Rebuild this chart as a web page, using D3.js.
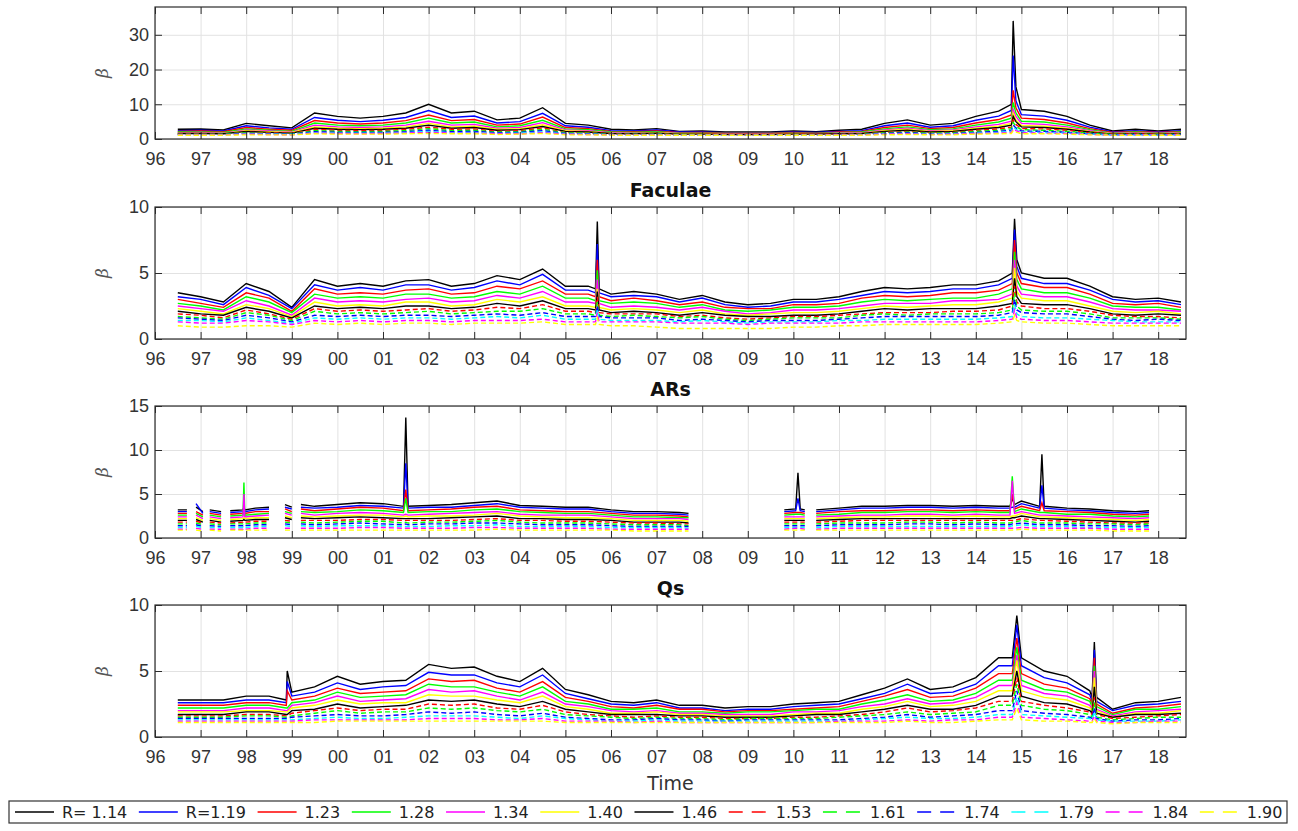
<!DOCTYPE html>
<html>
<head>
<meta charset="utf-8">
<script src="https://cdn.jsdelivr.net/npm/d3@7"></script>
<style>
  body { margin: 0; background: #fff; }
  svg { display: block; font-family: "DejaVu Sans", sans-serif; }
</style>
</head>
<body>
<svg id="chart" width="1298" height="831"></svg>
<script>
// legend / series styles
const seriesNames = ["R= 1.14", "R=1.19", "1.23", "1.28", "1.34", "1.40", "1.46", "1.53", "1.61", "1.74", "1.79", "1.84", "1.90"];
const seriesColors = ["#000000", "#0000ff", "#ff0000", "#00ff00", "#ff00ff", "#ffff00", "#000000", "#ff0000", "#00ff00", "#0000ff", "#00ffff", "#ff00ff", "#ffff00"];
const seriesDashed = [false, false, false, false, false, false, false, true, true, true, true, true, true];

const tickYears = d3.range(1996, 2019);
const tickLabels = ["96", "97", "98", "99", "00", "01", "02", "03", "04", "05", "06", "07", "08", "09", "10", "11", "12", "13", "14", "15", "16", "17", "18"];

// top panel (no title visible)
const totalDates = [1996.5,1997,1997.5,1998,1998.5,1999,1999.5,2000,2000.5,2001,2001.5,2002,2002.5,2003,2003.5,2004,2004.5,2005,2005.5,2006,2006.5,2007,2007.5,2008,2008.5,2009,2009.5,2010,2010.5,2011,2011.5,2012,2012.5,2013,2013.5,2014,2014.5,2014.78,2014.82,2014.88,2015,2015.5,2016,2016.5,2017,2017.5,2018,2018.5];
const totalSeries = [
  [2.8,2.9,2.6,4.5,3.8,3.2,7.5,6.5,6.0,6.5,7.5,10.0,7.5,8.0,5.5,6.0,9.0,4.5,4.0,2.8,2.6,3.0,2.2,2.3,2.0,2.0,2.0,2.3,2.1,2.5,2.8,4.5,5.5,4.0,4.5,6.5,8.0,10,34,15,8.5,8.0,6.5,4.0,2.3,2.8,2.3,2.8],
  [2.4,2.5,2.3,3.8,3.2,2.8,6.2,5.4,5.0,5.4,6.2,8.2,6.2,6.6,4.6,5.0,7.4,3.8,3.4,2.4,2.3,2.6,2.0,2.0,1.8,1.8,1.8,2.0,1.9,2.2,2.4,3.8,4.6,3.4,3.8,5.4,6.6,8.2,24,11,7.0,6.6,5.4,3.4,2.0,2.4,2.0,2.4],
  [2.2,2.3,2.1,3.3,2.8,2.5,5.3,4.6,4.3,4.6,5.3,6.9,5.3,5.6,4.0,4.3,6.3,3.3,3.0,2.2,2.1,2.3,1.8,1.9,1.7,1.7,1.7,1.9,1.7,2.0,2.2,3.3,4.0,3.0,3.3,4.6,5.6,6.9,14,9,6.0,5.6,4.6,3.0,1.9,2.2,1.9,2.2],
  [2.0,2.0,1.9,2.9,2.5,2.2,4.6,4.0,3.8,4.0,4.6,6.0,4.6,4.9,3.5,3.8,5.4,2.9,2.7,2.0,1.9,2.1,1.7,1.7,1.6,1.6,1.6,1.7,1.6,1.8,2.0,2.9,3.5,2.7,2.9,4.0,4.9,6.0,10.5,7.5,5.1,4.9,4.0,2.7,1.7,2.0,1.7,2.0],
  [1.8,1.9,1.7,2.6,2.3,2.0,4.0,3.5,3.3,3.5,4.0,5.1,4.0,4.2,3.1,3.3,4.7,2.6,2.4,1.8,1.7,1.9,1.6,1.6,1.5,1.5,1.5,1.6,1.5,1.7,1.8,2.6,3.1,2.4,2.6,3.5,4.2,5.1,8.5,6.5,4.5,4.2,3.5,2.4,1.6,1.8,1.6,1.8],
  [1.7,1.7,1.6,2.4,2.1,1.9,3.5,3.1,3.0,3.1,3.5,4.5,3.5,3.7,2.8,3.0,4.1,2.4,2.2,1.7,1.6,1.8,1.5,1.5,1.4,1.4,1.4,1.5,1.4,1.6,1.7,2.4,2.8,2.2,2.4,3.1,3.7,4.5,7.5,5.5,3.9,3.7,3.1,2.2,1.5,1.7,1.5,1.7],
  [1.6,1.6,1.5,2.2,1.9,1.7,3.1,2.8,2.7,2.8,3.1,4.0,3.1,3.3,2.5,2.7,3.6,2.2,2.0,1.6,1.5,1.7,1.4,1.4,1.3,1.3,1.3,1.4,1.4,1.5,1.6,2.2,2.5,2.0,2.2,2.8,3.3,4.0,6.5,5.0,3.5,3.3,2.8,2.0,1.4,1.6,1.4,1.6],
  [1.5,1.5,1.4,1.9,1.8,1.6,2.8,2.5,2.4,2.5,2.8,3.4,2.8,2.9,2.2,2.4,3.2,1.9,1.8,1.5,1.4,1.5,1.3,1.4,1.3,1.3,1.3,1.4,1.3,1.4,1.5,1.9,2.2,1.8,1.9,2.5,2.9,3.4,5.5,4.2,3.0,2.9,2.5,1.8,1.4,1.5,1.4,1.5],
  [1.4,1.4,1.4,1.8,1.6,1.5,2.4,2.2,2.1,2.2,2.4,3.0,2.4,2.5,2.0,2.1,2.8,1.8,1.7,1.4,1.4,1.4,1.3,1.3,1.2,1.2,1.2,1.3,1.2,1.3,1.4,1.8,2.0,1.7,1.8,2.2,2.5,3.0,4.8,3.6,2.7,2.5,2.2,1.7,1.3,1.4,1.3,1.4],
  [1.3,1.3,1.3,1.6,1.5,1.4,2.1,1.9,1.9,1.9,2.1,2.5,2.1,2.2,1.8,1.9,2.4,1.6,1.5,1.3,1.3,1.3,1.2,1.2,1.2,1.2,1.2,1.2,1.2,1.3,1.3,1.6,1.8,1.5,1.6,1.9,2.2,2.5,4.0,3.2,2.3,2.2,1.9,1.5,1.2,1.3,1.2,1.3],
  [1.2,1.2,1.2,1.5,1.4,1.3,1.8,1.7,1.7,1.7,1.8,2.2,1.8,1.9,1.6,1.7,2.0,1.5,1.4,1.2,1.2,1.3,1.2,1.2,1.1,1.1,1.1,1.2,1.1,1.2,1.2,1.5,1.6,1.4,1.5,1.7,1.9,2.2,3.4,2.8,2.0,1.9,1.7,1.4,1.2,1.2,1.2,1.2],
  [1.2,1.2,1.2,1.4,1.3,1.2,1.7,1.6,1.5,1.6,1.7,1.9,1.7,1.7,1.5,1.5,1.8,1.4,1.3,1.2,1.2,1.2,1.1,1.1,1.1,1.1,1.1,1.1,1.1,1.2,1.2,1.4,1.5,1.3,1.4,1.6,1.7,1.9,2.9,2.4,1.8,1.7,1.6,1.3,1.1,1.2,1.1,1.2],
  [1.1,1.1,1.1,1.2,1.2,1.2,1.5,1.4,1.4,1.4,1.5,1.6,1.5,1.5,1.3,1.4,1.6,1.2,1.2,1.1,1.1,1.1,1.1,1.1,1.1,1.1,1.1,1.1,1.1,1.1,1.1,1.2,1.3,1.2,1.2,1.4,1.5,1.6,2.4,2.0,1.5,1.5,1.4,1.2,1.1,1.1,1.1,1.1]
];

// Faculae
const faculaeDates = [1996.5,1997,1997.5,1998,1998.5,1999,1999.5,2000,2000.5,2001,2001.5,2002,2002.5,2003,2003.5,2004,2004.5,2005,2005.5,2005.66,2005.7,2005.74,2006,2006.5,2007,2007.5,2008,2008.5,2009,2009.5,2010,2010.5,2011,2011.5,2012,2012.5,2013,2013.5,2014,2014.5,2014.8,2014.85,2014.9,2015,2015.5,2016,2016.5,2017,2017.5,2018,2018.5];
const faculaeSeries = [
  [3.5,3.2,2.8,4.2,3.6,2.4,4.5,4.0,4.2,4.0,4.4,4.5,4.0,4.2,4.8,4.5,5.3,4.0,4.0,3.8,8.9,3.8,3.4,3.6,3.4,3.0,3.3,2.8,2.6,2.7,3.0,3.0,3.2,3.6,3.9,3.8,3.9,4.1,4.1,4.4,5.0,9.1,6.0,5.0,4.6,4.6,4.0,3.2,3.0,3.1,2.8],
  [3.2,3.0,2.6,3.9,3.3,2.3,4.1,3.7,3.9,3.7,4.1,4.1,3.7,3.9,4.4,4.1,4.9,3.7,3.7,3.5,7.2,3.5,3.2,3.3,3.2,2.8,3.1,2.6,2.4,2.5,2.8,2.8,3.0,3.3,3.6,3.5,3.6,3.8,3.8,4.1,4.6,8.3,5.5,4.6,4.2,4.2,3.7,3.0,2.8,2.9,2.6],
  [3.0,2.7,2.4,3.5,3.1,2.1,3.8,3.4,3.5,3.4,3.7,3.8,3.4,3.5,4.0,3.8,4.4,3.4,3.4,3.2,6.0,3.2,2.9,3.1,2.9,2.6,2.8,2.4,2.3,2.3,2.6,2.6,2.7,3.1,3.3,3.2,3.3,3.5,3.5,3.7,4.2,7.5,5.0,4.2,3.9,3.9,3.4,2.7,2.6,2.7,2.4],
  [2.7,2.5,2.2,3.2,2.8,2.0,3.4,3.1,3.2,3.1,3.4,3.4,3.1,3.2,3.6,3.4,4.0,3.1,3.1,2.9,5.2,2.9,2.7,2.8,2.7,2.4,2.6,2.2,2.1,2.2,2.4,2.4,2.5,2.8,3.0,2.9,3.0,3.1,3.1,3.4,3.8,6.6,4.5,3.8,3.5,3.5,3.1,2.5,2.4,2.4,2.2],
  [2.5,2.3,2.1,2.9,2.5,1.8,3.1,2.8,2.9,2.8,3.0,3.1,2.8,2.9,3.3,3.1,3.6,2.8,2.8,2.7,4.5,2.7,2.4,2.5,2.4,2.2,2.4,2.1,1.9,2.0,2.2,2.2,2.3,2.5,2.7,2.7,2.7,2.9,2.9,3.0,3.4,6.0,4.0,3.4,3.2,3.2,2.8,2.3,2.2,2.2,2.1],
  [2.3,2.1,1.9,2.6,2.3,1.7,2.8,2.5,2.6,2.5,2.8,2.8,2.5,2.6,3.0,2.8,3.2,2.5,2.5,2.4,3.8,2.4,2.2,2.3,2.2,2.0,2.2,1.9,1.8,1.9,2.0,2.0,2.1,2.3,2.5,2.4,2.5,2.6,2.6,2.8,3.1,5.4,3.6,3.1,2.9,2.9,2.5,2.1,2.0,2.1,1.9],
  [2.1,1.9,1.8,2.4,2.1,1.6,2.5,2.3,2.4,2.3,2.5,2.5,2.3,2.4,2.7,2.5,2.9,2.3,2.3,2.2,3.6,2.2,2.0,2.1,2.0,1.8,2.0,1.8,1.7,1.7,1.8,1.8,1.9,2.1,2.3,2.2,2.3,2.3,2.3,2.5,2.7,4.6,3.2,2.7,2.6,2.6,2.3,1.9,1.8,1.9,1.8],
  [1.9,1.8,1.6,2.2,1.9,1.5,2.3,2.1,2.2,2.1,2.2,2.3,2.1,2.2,2.4,2.3,2.6,2.1,2.1,2.0,3.2,2.0,1.9,1.9,1.9,1.7,1.8,1.6,1.5,1.6,1.7,1.7,1.8,1.9,2.0,2.0,2.0,2.1,2.1,2.2,2.5,4.0,2.8,2.5,2.3,2.3,2.1,1.8,1.7,1.7,1.6],
  [1.7,1.6,1.5,2.0,1.8,1.4,2.1,1.9,2.0,1.9,2.0,2.1,1.9,2.0,2.1,2.1,2.3,1.9,1.9,1.8,2.8,1.8,1.7,1.8,1.7,1.6,1.7,1.5,1.4,1.5,1.6,1.6,1.6,1.8,1.9,1.8,1.9,1.9,1.9,2.0,2.2,3.5,2.5,2.2,2.1,2.1,1.9,1.6,1.6,1.6,1.5],
  [1.6,1.5,1.4,1.8,1.6,1.3,1.8,1.7,1.8,1.7,1.8,1.8,1.7,1.8,1.9,1.8,2.0,1.7,1.7,1.7,2.5,1.7,1.6,1.6,1.6,1.4,1.5,1.4,1.3,1.4,1.4,1.4,1.5,1.6,1.7,1.7,1.7,1.7,1.7,1.8,2.0,3.0,2.2,2.0,1.9,1.9,1.7,1.5,1.4,1.5,1.4],
  [1.4,1.4,1.3,1.6,1.4,1.2,1.6,1.5,1.6,1.5,1.6,1.6,1.5,1.6,1.7,1.6,1.8,1.5,1.5,1.5,2.2,1.5,1.4,1.4,1.4,1.3,1.4,1.3,1.2,1.3,1.3,1.3,1.4,1.4,1.5,1.5,1.5,1.5,1.5,1.6,1.7,2.6,1.9,1.7,1.6,1.6,1.5,1.4,1.3,1.3,1.3],
  [1.3,1.2,1.2,1.4,1.3,1.1,1.4,1.3,1.4,1.3,1.4,1.4,1.3,1.4,1.4,1.4,1.5,1.3,1.3,1.3,2.0,1.3,1.3,1.3,1.3,1.2,1.2,1.2,1.1,1.2,1.2,1.2,1.2,1.3,1.3,1.3,1.3,1.3,1.3,1.4,1.5,2.2,1.6,1.5,1.4,1.4,1.3,1.2,1.2,1.2,1.2],
  [1.0,0.9,0.9,1.0,1.0,0.9,1.2,1.1,1.2,1.1,1.2,1.2,1.1,1.2,1.2,1.2,1.3,1.1,1.1,1.1,1.6,1.1,1.0,1.0,0.9,0.8,0.8,0.8,0.8,0.8,0.9,0.9,1.0,1.0,1.1,1.1,1.1,1.1,1.1,1.2,1.3,1.8,1.4,1.3,1.2,1.2,1.1,1.0,1.0,1.0,1.0]
];

// ARs (data has gaps, arBreaks marks where the record stops)
const arDates = [1996.5,1996.7,1996.9,1997.05,1997.2,1997.45,1997.65,1997.93,1997.95,1997.97,1998.2,1998.5,1998.85,1999,1999.2,1999.5,2000,2000.5,2001,2001.45,2001.5,2001.55,2002,2002.5,2003,2003.5,2004,2004.5,2005,2005.5,2006,2006.5,2007,2007.5,2007.7,2009.8,2010.05,2010.1,2010.15,2010.25,2010.5,2011,2011.5,2012,2012.5,2013,2013.5,2014,2014.5,2014.75,2014.8,2014.85,2015,2015.4,2015.45,2015.5,2016,2016.5,2017,2017.5,2017.8];
const arBreaks = [1996.8, 1997.1, 1997.55, 1998.7, 1999.1, 2008.5, 2010.35];
const arSeries = [
  [3.2,3.2,3.5,3.0,3.2,3.0,3.1,3.2,3.5,3.2,3.4,3.5,3.8,3.5,3.8,3.6,3.8,4.0,3.9,3.6,13.7,3.6,3.7,3.8,4.0,4.2,3.7,3.6,3.5,3.5,3.2,3.0,3.0,2.9,2.8,3.2,3.3,7.4,3.3,3.2,3.2,3.4,3.6,3.6,3.7,3.7,3.6,3.7,3.6,3.6,4.5,3.8,4.2,3.6,9.5,3.6,3.4,3.3,3.1,3.0,3.1],
  [3.0,3.0,3.9,2.8,3.0,2.8,2.9,3.0,3.3,3.0,3.2,3.3,3.5,3.3,3.5,3.4,3.5,3.7,3.6,3.4,8.5,3.4,3.5,3.5,3.7,3.9,3.5,3.4,3.3,3.3,3.0,2.8,2.8,2.7,2.6,3.0,3.1,4.5,3.1,3.0,3.0,3.2,3.4,3.4,3.5,3.5,3.4,3.5,3.4,3.4,3.5,3.5,3.9,3.4,6.0,3.4,3.2,3.1,2.9,2.8,2.9],
  [2.8,2.8,3.0,2.6,2.8,2.6,2.7,2.8,3.0,2.8,3.0,3.0,3.3,3.0,3.3,3.1,3.3,3.5,3.4,3.1,5.5,3.1,3.2,3.3,3.5,3.6,3.2,3.1,3.0,3.0,2.8,2.6,2.6,2.5,2.4,2.8,2.9,2.9,2.9,2.8,2.8,3.0,3.1,3.1,3.2,3.2,3.1,3.2,3.1,3.1,5.0,3.3,3.6,3.1,4.0,3.1,3.0,2.9,2.7,2.6,2.7],
  [2.6,2.6,2.8,2.4,2.6,2.4,2.5,2.6,6.3,2.6,2.7,2.8,3.0,2.8,3.0,2.9,3.0,3.2,3.1,2.9,4.5,2.9,3.0,3.0,3.2,3.3,3.0,2.9,2.8,2.8,2.6,2.4,2.4,2.3,2.3,2.6,2.7,2.7,2.7,2.6,2.6,2.7,2.9,2.9,3.0,3.0,2.9,3.0,2.9,2.9,7.0,3.0,3.3,2.9,2.9,2.9,2.7,2.7,2.5,2.4,2.5],
  [2.4,2.4,2.6,2.2,2.4,2.2,2.3,2.4,5.0,2.4,2.5,2.6,2.8,2.6,2.8,2.6,2.8,2.9,2.8,2.6,2.7,2.6,2.7,2.8,2.9,3.0,2.7,2.6,2.6,2.6,2.4,2.2,2.2,2.2,2.1,2.4,2.4,2.4,2.4,2.4,2.4,2.5,2.6,2.6,2.7,2.7,2.6,2.7,2.6,2.6,6.5,2.8,3.0,2.6,2.6,2.6,2.5,2.4,2.3,2.2,2.3],
  [2.2,2.2,2.3,2.0,2.2,2.0,2.1,2.2,2.3,2.2,2.3,2.3,2.5,2.3,2.5,2.4,2.5,2.6,2.6,2.4,2.5,2.4,2.5,2.5,2.6,2.8,2.5,2.4,2.3,2.3,2.2,2.0,2.0,2.0,1.9,2.2,2.2,2.2,2.2,2.2,2.2,2.3,2.4,2.4,2.5,2.5,2.4,2.5,2.4,2.4,2.5,2.5,2.8,2.4,2.4,2.4,2.3,2.2,2.1,2.0,2.1],
  [2.0,2.0,2.1,1.8,2.0,1.8,1.9,2.0,2.1,2.0,2.1,2.1,2.3,2.1,2.3,2.2,2.3,2.4,2.3,2.2,2.2,2.2,2.2,2.3,2.4,2.5,2.2,2.2,2.1,2.1,2.0,1.8,1.8,1.8,1.7,2.0,2.0,2.0,2.0,2.0,2.0,2.1,2.2,2.2,2.2,2.2,2.2,2.2,2.2,2.2,2.3,2.3,2.5,2.2,2.2,2.2,2.1,2.0,1.9,1.8,1.9],
  [1.8,1.8,1.9,1.7,1.8,1.7,1.7,1.8,1.9,1.8,1.9,1.9,2.0,1.9,2.0,2.0,2.0,2.1,2.1,2.0,2.0,2.0,2.0,2.0,2.1,2.2,2.0,2.0,1.9,1.9,1.8,1.7,1.7,1.6,1.6,1.8,1.8,1.8,1.8,1.8,1.8,1.9,2.0,2.0,2.0,2.0,2.0,2.0,2.0,2.0,2.0,2.0,2.2,2.0,2.0,2.0,1.9,1.8,1.7,1.7,1.7],
  [1.6,1.6,1.7,1.5,1.6,1.5,1.6,1.6,1.7,1.6,1.7,1.7,1.8,1.7,1.8,1.7,1.8,1.9,1.9,1.7,1.8,1.7,1.8,1.8,1.9,2.0,1.8,1.7,1.7,1.7,1.6,1.5,1.5,1.5,1.4,1.6,1.6,1.6,1.6,1.6,1.6,1.7,1.7,1.7,1.8,1.8,1.7,1.8,1.7,1.7,1.8,1.8,2.0,1.7,1.7,1.7,1.7,1.6,1.6,1.5,1.6],
  [1.4,1.4,1.5,1.3,1.4,1.3,1.4,1.4,1.5,1.4,1.5,1.5,1.6,1.5,1.6,1.5,1.6,1.7,1.6,1.5,1.6,1.5,1.6,1.6,1.7,1.7,1.6,1.5,1.5,1.5,1.4,1.3,1.3,1.3,1.3,1.4,1.4,1.4,1.4,1.4,1.4,1.5,1.5,1.5,1.6,1.6,1.5,1.6,1.5,1.5,1.6,1.6,1.7,1.5,1.5,1.5,1.5,1.4,1.4,1.3,1.4],
  [1.2,1.2,1.3,1.2,1.2,1.2,1.2,1.2,1.3,1.2,1.3,1.3,1.4,1.3,1.4,1.3,1.4,1.4,1.4,1.3,1.3,1.3,1.3,1.4,1.4,1.5,1.3,1.3,1.3,1.3,1.2,1.2,1.2,1.2,1.1,1.2,1.2,1.2,1.2,1.2,1.2,1.3,1.3,1.3,1.3,1.3,1.3,1.3,1.3,1.3,1.4,1.4,1.5,1.3,1.3,1.3,1.3,1.2,1.2,1.2,1.2],
  [1.0,1.0,1.1,1.0,1.0,1.0,1.0,1.0,1.1,1.0,1.1,1.1,1.1,1.1,1.1,1.1,1.1,1.2,1.2,1.1,1.1,1.1,1.1,1.1,1.2,1.2,1.1,1.1,1.1,1.1,1.0,1.0,1.0,1.0,1.0,1.0,1.1,1.1,1.1,1.0,1.0,1.1,1.1,1.1,1.1,1.1,1.1,1.1,1.1,1.1,1.1,1.1,1.2,1.1,1.1,1.1,1.1,1.1,1.0,1.0,1.0],
  [0.9,0.9,0.9,0.8,0.9,0.8,0.9,0.9,0.9,0.9,0.9,0.9,0.9,0.9,0.9,0.9,0.9,0.9,0.9,0.9,0.9,0.9,0.9,0.9,0.9,1.0,0.9,0.9,0.9,0.9,0.9,0.8,0.8,0.8,0.8,0.9,0.9,0.9,0.9,0.9,0.9,0.9,0.9,0.9,0.9,0.9,0.9,0.9,0.9,0.9,0.9,0.9,1.0,0.9,0.9,0.9,0.9,0.9,0.8,0.8,0.8]
];

// Qs
const qsDates = [1996.5,1997,1997.5,1998,1998.5,1998.88,1998.9,1999,1999.5,2000,2000.5,2001,2001.5,2002,2002.5,2003,2003.5,2004,2004.5,2005,2005.5,2006,2006.5,2007,2007.5,2008,2008.5,2009,2009.5,2010,2010.5,2011,2011.5,2012,2012.5,2013,2013.5,2014,2014.5,2014.8,2014.9,2015,2015.5,2016,2016.5,2016.55,2016.6,2016.65,2017,2017.5,2018,2018.5];
const qsSeries = [
  [2.8,2.8,2.8,3.1,3.1,2.8,5.0,3.4,3.8,4.6,4.0,4.2,4.3,5.5,5.2,5.3,4.6,4.2,5.2,3.6,3.2,2.7,2.6,2.8,2.4,2.4,2.2,2.3,2.3,2.5,2.6,2.7,3.2,3.7,4.4,3.6,3.8,4.5,6.0,6.0,9.2,6.0,5.0,4.6,3.5,3.0,7.2,3.0,2.1,2.6,2.7,3.0],
  [2.6,2.6,2.6,2.8,2.8,2.6,4.2,3.1,3.4,4.1,3.6,3.8,3.9,4.9,4.7,4.7,4.1,3.8,4.7,3.3,2.9,2.5,2.4,2.6,2.2,2.2,2.0,2.1,2.1,2.3,2.4,2.5,2.9,3.3,4.0,3.3,3.4,4.0,5.4,5.4,8.5,5.4,4.5,4.1,3.2,2.7,6.6,2.7,2.0,2.4,2.5,2.7],
  [2.4,2.4,2.4,2.6,2.6,2.4,3.5,2.8,3.1,3.7,3.3,3.4,3.5,4.4,4.2,4.3,3.7,3.4,4.2,3.0,2.7,2.3,2.2,2.4,2.1,2.1,1.9,2.0,2.0,2.1,2.2,2.3,2.7,3.1,3.6,3.0,3.1,3.7,4.8,4.8,7.5,4.8,4.0,3.7,2.9,2.5,6.0,2.5,1.8,2.2,2.3,2.5],
  [2.2,2.2,2.2,2.4,2.4,2.2,2.2,2.6,2.8,3.4,3.0,3.1,3.2,4.0,3.8,3.8,3.4,3.1,3.8,2.7,2.5,2.1,2.1,2.2,1.9,1.9,1.8,1.9,1.9,2.0,2.1,2.1,2.5,2.8,3.2,2.7,2.8,3.3,4.3,4.3,6.8,4.3,3.6,3.4,2.7,2.3,5.4,2.3,1.7,2.1,2.1,2.3],
  [2.0,2.0,2.0,2.2,2.2,2.0,2.0,2.4,2.6,3.1,2.7,2.8,2.9,3.6,3.4,3.5,3.1,2.8,3.4,2.5,2.3,2.0,1.9,2.0,1.8,1.8,1.7,1.7,1.7,1.9,1.9,2.0,2.3,2.5,2.9,2.5,2.6,3.0,3.9,3.9,6.2,3.9,3.3,3.1,2.4,2.1,5.0,2.1,1.6,1.9,2.0,2.1],
  [1.9,1.9,1.9,2.0,2.0,1.9,1.9,2.2,2.4,2.8,2.5,2.6,2.6,3.2,3.1,3.1,2.8,2.6,3.1,2.3,2.1,1.8,1.8,1.9,1.7,1.7,1.6,1.6,1.6,1.7,1.8,1.8,2.1,2.3,2.7,2.3,2.4,2.7,3.5,3.5,5.8,3.5,3.0,2.8,2.2,2.0,4.5,2.0,1.5,1.8,1.8,2.0],
  [1.7,1.7,1.7,1.9,1.9,1.7,1.7,2.0,2.1,2.5,2.2,2.3,2.4,2.8,2.7,2.8,2.5,2.3,2.7,2.1,1.9,1.7,1.7,1.7,1.6,1.6,1.5,1.5,1.5,1.6,1.7,1.7,1.9,2.1,2.4,2.1,2.1,2.4,3.1,3.1,5.0,3.1,2.6,2.5,2.0,1.8,3.8,1.8,1.5,1.7,1.7,1.8],
  [1.6,1.6,1.6,1.7,1.7,1.6,1.6,1.8,2.0,2.2,2.0,2.1,2.1,2.5,2.4,2.5,2.2,2.1,2.4,1.9,1.7,1.6,1.5,1.6,1.5,1.5,1.4,1.4,1.4,1.5,1.5,1.6,1.7,1.9,2.2,1.9,2.0,2.2,2.7,2.7,4.5,2.7,2.4,2.2,1.9,1.7,3.0,1.7,1.4,1.5,1.6,1.7],
  [1.5,1.5,1.5,1.6,1.6,1.5,1.5,1.6,1.8,2.0,1.8,1.9,1.9,2.2,2.1,2.2,2.0,1.9,2.1,1.7,1.6,1.5,1.4,1.5,1.4,1.4,1.3,1.4,1.4,1.4,1.4,1.5,1.6,1.7,1.9,1.7,1.8,1.9,2.4,2.4,4.0,2.4,2.1,2.0,1.7,1.5,2.6,1.5,1.3,1.4,1.5,1.5],
  [1.4,1.4,1.4,1.4,1.4,1.4,1.4,1.5,1.6,1.7,1.6,1.6,1.7,1.9,1.8,1.9,1.7,1.6,1.8,1.5,1.4,1.3,1.3,1.4,1.3,1.3,1.2,1.3,1.3,1.3,1.3,1.3,1.4,1.5,1.7,1.5,1.6,1.7,2.0,2.0,3.5,2.0,1.8,1.7,1.5,1.4,2.2,1.4,1.2,1.3,1.3,1.4],
  [1.3,1.3,1.3,1.3,1.3,1.3,1.3,1.3,1.4,1.5,1.4,1.4,1.5,1.6,1.6,1.6,1.5,1.4,1.6,1.4,1.3,1.2,1.2,1.3,1.2,1.2,1.2,1.2,1.2,1.2,1.2,1.2,1.3,1.4,1.5,1.4,1.4,1.5,1.7,1.7,3.0,1.7,1.6,1.5,1.4,1.3,1.9,1.3,1.2,1.2,1.2,1.3],
  [1.2,1.2,1.2,1.2,1.2,1.2,1.2,1.2,1.3,1.3,1.3,1.3,1.3,1.4,1.4,1.4,1.3,1.3,1.4,1.2,1.2,1.2,1.1,1.2,1.1,1.1,1.1,1.1,1.1,1.1,1.1,1.2,1.2,1.2,1.3,1.2,1.3,1.3,1.5,1.5,2.6,1.5,1.4,1.3,1.2,1.2,1.6,1.2,1.1,1.1,1.2,1.2],
  [1.1,1.1,1.1,1.1,1.1,1.1,1.1,1.1,1.1,1.2,1.2,1.2,1.2,1.2,1.2,1.2,1.2,1.2,1.2,1.1,1.1,1.1,1.1,1.1,1.1,1.1,1.1,1.1,1.1,1.1,1.1,1.1,1.1,1.1,1.2,1.1,1.1,1.2,1.3,1.3,2.2,1.3,1.2,1.2,1.1,1.1,1.4,1.1,1.0,1.1,1.1,1.1]
];

const totalYTicks = [0, 10, 20, 30];
const faculaeYTicks = [0, 5, 10];
const arYTicks = [0, 5, 10, 15];
const qsYTicks = [0, 5, 10];

const panels = [
  { title: "", dates: totalDates, series: totalSeries, yMax: 38, yTicks: totalYTicks, breaks: [] },
  { title: "Faculae", dates: faculaeDates, series: faculaeSeries, yMax: 10, yTicks: faculaeYTicks, breaks: [] },
  { title: "ARs", dates: arDates, series: arSeries, yMax: 15, yTicks: arYTicks, breaks: arBreaks },
  { title: "Qs", dates: qsDates, series: qsSeries, yMax: 10, yTicks: qsYTicks, breaks: [] }
];

const svg = d3.select("#chart");
const plotLeft = 155, plotRight = 1186;
const panelTops = [7, 207, 406, 605];
const panelHeight = 132;
const textColor = "#333";

const x = d3.scaleLinear().domain([1996, 2018.61]).range([plotLeft, plotRight]);

// turn a series into points, inserting a gap marker where the record breaks
function buildPoints(dates, values, breaks) {
  const pts = [];
  dates.forEach((t, i) => {
    if (i > 0 && breaks.some((b) => b > dates[i - 1] && b < t)) pts.push({ t: null, v: null });
    pts.push({ t: t, v: values[i] });
  });
  return pts;
}

panels.forEach((panel, pi) => {
  const top = panelTops[pi];
  const bottom = top + panelHeight;
  const y = d3.scaleLinear().domain([0, panel.yMax]).range([bottom, top]);
  const g = svg.append("g");

  // grid
  g.append("g")
    .attr("transform", `translate(0,${bottom})`)
    .call(d3.axisBottom(x).tickValues(tickYears).tickSize(-panelHeight).tickFormat(""))
    .call((s) => s.select(".domain").remove())
    .selectAll("line").attr("stroke", "#e2e2e2");
  g.append("g")
    .attr("transform", `translate(${plotLeft},0)`)
    .call(d3.axisLeft(y).tickValues(panel.yTicks).tickSize(-(plotRight - plotLeft)).tickFormat(""))
    .call((s) => s.select(".domain").remove())
    .selectAll("line").attr("stroke", "#e2e2e2");

  // series lines
  const clipId = "clip" + pi;
  svg.append("clipPath").attr("id", clipId)
    .append("rect").attr("x", plotLeft).attr("y", top)
    .attr("width", plotRight - plotLeft).attr("height", panelHeight);

  const line = d3.line()
    .defined((d) => d.t !== null && d.v !== null && d.v !== undefined)
    .x((d) => x(d.t))
    .y((d) => y(d.v));

  g.append("g").attr("clip-path", `url(#${clipId})`)
    .selectAll("path")
    .data(panel.series)
    .join("path")
    .attr("fill", "none")
    .attr("stroke", (d, i) => seriesColors[i])
    .attr("stroke-width", 1.4)
    .attr("stroke-dasharray", (d, i) => (seriesDashed[i] ? "5,3" : null))
    .attr("d", (d) => line(buildPoints(panel.dates, d, panel.breaks)));

  // frame
  g.append("rect")
    .attr("x", plotLeft).attr("y", top)
    .attr("width", plotRight - plotLeft).attr("height", panelHeight)
    .attr("fill", "none").attr("stroke", "#2b2b2b").attr("stroke-width", 1.2);

  // ticks + labels
  const xAxis = g.append("g")
    .attr("transform", `translate(0,${bottom})`)
    .call(d3.axisBottom(x).tickValues(tickYears).tickFormat((d, i) => tickLabels[i])
      .tickSizeInner(-7).tickSizeOuter(0).tickPadding(13));
  xAxis.select(".domain").remove();
  xAxis.selectAll("line").attr("stroke", "#2b2b2b");
  xAxis.selectAll("text").attr("fill", textColor).style("font-size", "18px");

  const xTop = g.append("g")
    .attr("transform", `translate(0,${top})`)
    .call(d3.axisTop(x).tickValues(tickYears).tickFormat("").tickSizeInner(-7).tickSizeOuter(0));
  xTop.select(".domain").remove();
  xTop.selectAll("line").attr("stroke", "#2b2b2b");

  const yAxis = g.append("g")
    .attr("transform", `translate(${plotLeft},0)`)
    .call(d3.axisLeft(y).tickValues(panel.yTicks).tickSizeInner(-7).tickSizeOuter(0).tickPadding(6));
  yAxis.select(".domain").remove();
  yAxis.selectAll("line").attr("stroke", "#2b2b2b");
  yAxis.selectAll("text").attr("fill", textColor).style("font-size", "18px");

  const yRight = g.append("g")
    .attr("transform", `translate(${plotRight},0)`)
    .call(d3.axisRight(y).tickValues(panel.yTicks).tickFormat("").tickSizeInner(-7).tickSizeOuter(0));
  yRight.select(".domain").remove();
  yRight.selectAll("line").attr("stroke", "#2b2b2b");

  // beta label
  g.append("text")
    .attr("transform", `translate(108,${(top + bottom) / 2}) rotate(-90)`)
    .attr("text-anchor", "middle")
    .attr("fill", "#555")
    .style("font-size", "17px")
    .style("font-style", "italic")
    .style("font-family", "'DejaVu Serif', serif")
    .text("β");

  if (panel.title) {
    g.append("text")
      .attr("x", (plotLeft + plotRight) / 2)
      .attr("y", top - 10)
      .attr("text-anchor", "middle")
      .attr("fill", "#111")
      .style("font-size", "19px")
      .style("font-weight", "bold")
      .text(panel.title);
  }
});

// x-axis title
svg.append("text")
  .attr("x", (plotLeft + plotRight) / 2)
  .attr("y", 790)
  .attr("text-anchor", "middle")
  .attr("fill", textColor)
  .style("font-size", "19px")
  .text("Time");

// legend
const legend = svg.append("g");
legend.append("rect")
  .attr("x", 9).attr("y", 801).attr("width", 1278).attr("height", 22)
  .attr("fill", "#fff").attr("stroke", "#333").attr("stroke-width", 1.2);

let cx = 15;
seriesNames.forEach((name, i) => {
  const ly = 812;
  legend.append("line")
    .attr("x1", cx).attr("x2", cx + 39).attr("y1", ly).attr("y2", ly)
    .attr("stroke", seriesColors[i]).attr("stroke-width", 1.4)
    .attr("stroke-dasharray", seriesDashed[i] ? "14,9" : null);
  const t = legend.append("text")
    .attr("x", cx + 47).attr("y", ly + 6)
    .attr("fill", "#222")
    .style("font-size", "16px")
    .text(name);
  cx += 39 + 8 + t.node().getComputedTextLength() + 11.6;
});
</script>
</body>
</html>
